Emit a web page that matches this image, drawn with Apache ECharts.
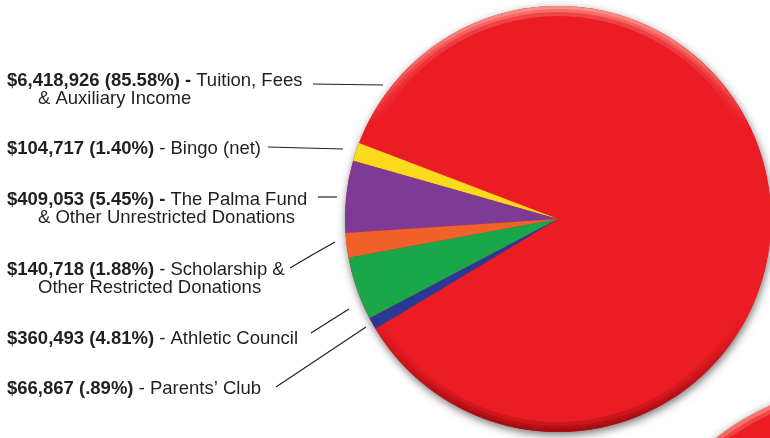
<!DOCTYPE html>
<html><head><meta charset="utf-8">
<script src="https://cdn.jsdelivr.net/npm/echarts@6/dist/echarts.min.js"></script>
<style>html,body{margin:0;padding:0;background:#fff}#c{width:770px;height:438px}</style>
</head><body><div id="c"></div>
<script>
// ---- data ----
const categories = [
  'Tuition, Fees & Auxiliary Income',
  'Bingo (net)',
  'The Palma Fund & Other Unrestricted Donations',
  'Scholarship & Other Restricted Donations',
  'Athletic Council',
  'Parents’ Club'
];
const amounts = [6418926, 104717, 409053, 140718, 360493, 66867];
const percentText = ['85.58%', '1.40%', '5.45%', '1.88%', '4.81%', '.89%'];
const descLine1 = ['Tuition, Fees', 'Bingo (net)', 'The Palma Fund', 'Scholarship &', 'Athletic Council', 'Parents’ Club'];
const descLine2 = ['& Auxiliary Income', '', '& Other Unrestricted Donations', 'Other Restricted Donations', '', ''];
const boldDash = [true, false, true, false, false, false];

// ---- styles / layout ----
const sliceColors = ['#ec1c24', '#fbd91b', '#7e3b96', '#f0622a', '#19a74a', '#2a3896'];
const textColor = '#231f20';
const fontFamily = '"Liberation Sans", Arial, Helvetica, sans-serif';
const labelTops = [71.5, 139.5, 191, 260.5, 329.5, 379.5];
const leaderLines = [
  [[313, 84], [348, 84.5], [383, 85]],
  [[268, 147], [305, 148], [343, 149]],
  [[318, 197], [327, 197], [337, 197]],
  [[290, 268], [312, 255], [335, 242]],
  [[311, 333], [330, 321], [349, 309]],
  [[276, 387], [321, 357], [366, 327]]
];
const pieCenter = [558, 219];
const pieRadius = 213;

function fmtAmount(v) { return '$' + v.toLocaleString('en-US'); }

const pieData = categories.map((c, i) => ({
  name: c, value: amounts[i], itemStyle: { color: sliceColors[i] }
}));

function rim(a1, a2) {
  return new echarts.graphic.LinearGradient(0, 0, 0, 1, [
    { offset: 0, color: 'rgba(255,205,190,' + a1 + ')' },
    { offset: 0.28, color: 'rgba(255,205,190,0)' },
    { offset: 0.72, color: 'rgba(110,0,0,0)' },
    { offset: 1, color: 'rgba(100,0,0,' + a2 + ')' }
  ]);
}
function ringSeries(center, r0, r1, a1, a2) {
  return {
    type: 'pie', silent: true, center: center, radius: [r0, r1],
    label: { show: false }, labelLine: { show: false },
    itemStyle: { color: rim(a1, a2) }, data: [{ value: 1 }]
  };
}

const chart = echarts.init(document.getElementById('c'), null, { renderer: 'canvas' });
chart.setOption({
  animation: false,
  backgroundColor: '#ffffff',
  series: [
    { // base of the second (cut-off) pie
      type: 'pie', silent: true, center: [875, 640], radius: 257,
      label: { show: false }, labelLine: { show: false },
      itemStyle: { color: '#ec1c24', shadowBlur: 8, shadowColor: 'rgba(0,0,0,0.45)', shadowOffsetY: 2 },
      data: [{ value: 1 }]
    },
    ringSeries([875, 640], 249, 257, 0.3, 0.3),
    ringSeries([875, 640], 253, 257, 0.45, 0.35),
    { // shadow base of main pie
      type: 'pie', silent: true, center: pieCenter, radius: pieRadius,
      label: { show: false }, labelLine: { show: false },
      itemStyle: { color: '#ec1c24', shadowBlur: 9, shadowColor: 'rgba(0,0,0,0.55)', shadowOffsetY: 3, shadowOffsetX: 1 },
      data: [{ value: 1 }]
    },
    {
      type: 'pie',
      center: pieCenter,
      radius: pieRadius,
      startAngle: 211,
      clockwise: false,
      avoidLabelOverlap: false,
      silent: true,
      emphasis: { disabled: true },
      itemStyle: { borderWidth: 0 },
      data: pieData,
      label: {
        show: true,
        position: 'outside',
        color: textColor,
        formatter: function (p) {
          const i = p.dataIndex;
          const head = fmtAmount(amounts[i]) + ' (' + percentText[i] + ')';
          let s = boldDash[i]
            ? '{b|' + head + ' - }{n|' + descLine1[i] + '}'
            : '{b|' + head + '}{n| - ' + descLine1[i] + '}';
          if (descLine2[i]) s += '\n{i|' + descLine2[i] + '}';
          return s;
        },
        rich: {
          b: { fontWeight: 'bold', fontSize: 18.5, lineHeight: 18, color: textColor, fontFamily: fontFamily },
          n: { fontSize: 18.5, lineHeight: 18, color: textColor, fontFamily: fontFamily },
          i: { fontSize: 18.5, lineHeight: 18, color: textColor, fontFamily: fontFamily, padding: [0, 0, 0, 31] }
        }
      },
      labelLine: { show: true, lineStyle: { color: textColor, width: 1.2 } },
      labelLayout: function (params) {
        const i = params.dataIndex;
        return { x: 7, y: labelTops[i], align: 'left', verticalAlign: 'top', labelLinePoints: leaderLines[i] };
      }
    },
    // soft rim highlight (top) and shade (bottom)
    ringSeries(pieCenter, 203, pieRadius, 0.25, 0.25),
    ringSeries(pieCenter, 207, pieRadius, 0.3, 0.25),
    ringSeries(pieCenter, 210, pieRadius, 0.35, 0.2)
  ]
});
</script>
</body></html>
